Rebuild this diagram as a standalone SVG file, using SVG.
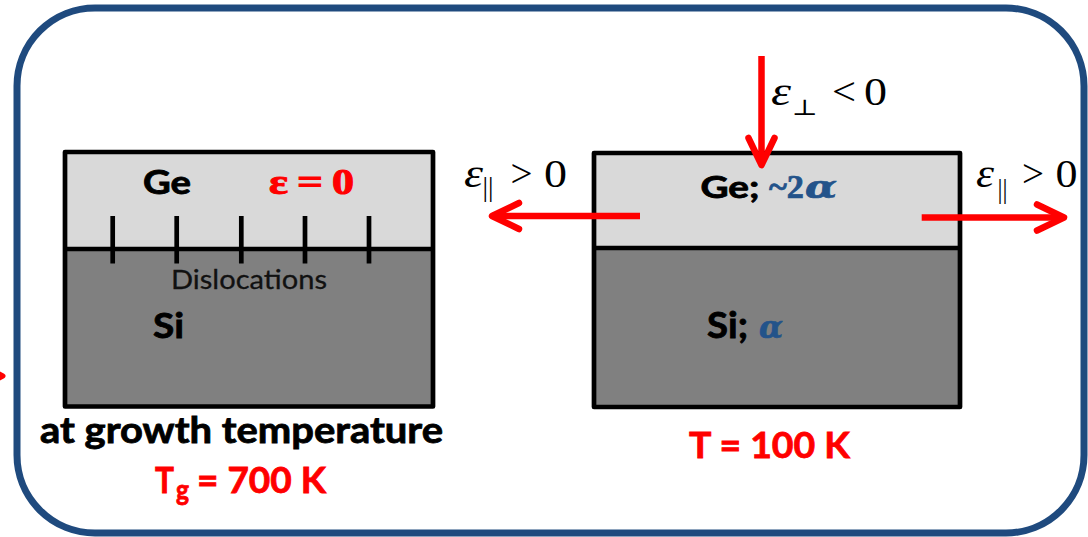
<svg xmlns="http://www.w3.org/2000/svg" width="1088" height="537" viewBox="0 0 1088 537">
<style>
.sans{font-family:Lato,"Liberation Sans",sans-serif;font-weight:bold;fill:#000;stroke:#000;stroke-width:0.8;}
.reg{font-family:Lato,"Liberation Sans",sans-serif;font-weight:normal;fill:#111;stroke:#111;stroke-width:0.3;}
.math{font-family:"Liberation Serif","DejaVu Serif",serif;fill:#000;}
.greek{font-family:"DejaVu Serif","Liberation Serif",serif;font-weight:bold;font-style:italic;}
.red{fill:#FF0000;stroke:#FF0000;}
.blue{fill:#23538A;stroke:#23538A;stroke-width:0.7;}
.top{fill:#D9D9D9;}
.bot{fill:#808080;}
.edge{fill:none;stroke:#000;stroke-width:4.7;stroke-linejoin:round;}
.tick{stroke:#000;stroke-width:4.7;}
.arrow{fill:none;stroke:#FF0000;stroke-width:6.5;}
</style>
<defs>
<marker id="ah" markerUnits="userSpaceOnUse" orient="auto" refX="0" refY="0" markerWidth="40" markerHeight="40" viewBox="-34 -20 40 40" overflow="visible">
<path d="M-27,-13 L0,0 L-27,13" fill="none" stroke="#FF0000" stroke-width="6.5" stroke-linecap="round" stroke-linejoin="round"/>
</marker>
</defs>
<rect width="1088" height="537" fill="#FFFFFF"/>
<g id="frame">
<rect x="17" y="8" width="1067" height="525" rx="78" ry="78" fill="none" stroke="#1F4A7E" stroke-width="7"/>
</g>
<g id="left-sample">
<rect class="top" x="65" y="152" width="368" height="97"/>
<rect class="bot" x="65" y="249" width="368" height="157.5"/>
<rect class="edge" x="65" y="152" width="368" height="254.5"/>
<line class="tick" x1="65" y1="249" x2="433" y2="249"/>
<line class="tick" x1="112.7" y1="216" x2="112.7" y2="263.5"/>
<line class="tick" x1="176.7" y1="216" x2="176.7" y2="263.5"/>
<line class="tick" x1="241.3" y1="216" x2="241.3" y2="263.5"/>
<line class="tick" x1="305" y1="216" x2="305" y2="263.5"/>
<line class="tick" x1="369" y1="216" x2="369" y2="263.5"/>
<text class="sans" x="143" y="194" font-size="31.5" textLength="48" lengthAdjust="spacingAndGlyphs">Ge</text>
<text class="math red" font-weight="bold" x="269" y="194.3" font-size="35" textLength="19" lengthAdjust="spacingAndGlyphs">ε</text>
<text class="math red" font-weight="bold" x="297" y="194.3" font-size="35" textLength="26" lengthAdjust="spacingAndGlyphs">=</text>
<text class="math red" font-weight="bold" x="332" y="194.3" font-size="35" textLength="22" lengthAdjust="spacingAndGlyphs">0</text>
<text class="reg" x="171" y="288.5" font-size="27.5" textLength="156" lengthAdjust="spacingAndGlyphs">Dislocations</text>
<text class="sans" x="153" y="337.5" font-size="35" textLength="31" lengthAdjust="spacingAndGlyphs">Si</text>
<text class="sans" x="40" y="442.7" font-size="36" textLength="403" lengthAdjust="spacingAndGlyphs">at growth temperature</text>
<text class="sans red" x="155" y="492.7" font-size="36" textLength="19" lengthAdjust="spacingAndGlyphs">T</text>
<text class="sans red" x="176" y="500" font-size="28" textLength="13" lengthAdjust="spacingAndGlyphs">g</text>
<text class="sans red" x="197" y="492.7" font-size="36" textLength="129" lengthAdjust="spacingAndGlyphs">= 700 K</text>
</g>
<g id="right-sample">
<rect class="top" x="594" y="153" width="366" height="95"/>
<rect class="bot" x="594" y="248" width="366" height="159"/>
<rect class="edge" x="594" y="153" width="366" height="254"/>
<line class="tick" x1="594" y1="248" x2="960" y2="248"/>
<text class="sans" x="700.5" y="197.7" font-size="30" textLength="59" lengthAdjust="spacingAndGlyphs">Ge;</text>
<text class="math blue" font-weight="bold" x="769" y="198" font-size="34" textLength="35" lengthAdjust="spacingAndGlyphs">~2</text>
<text class="greek blue" x="805" y="198" font-size="32" textLength="32" lengthAdjust="spacingAndGlyphs">α</text>
<text class="sans" x="707" y="338.3" font-size="35.5" textLength="41" lengthAdjust="spacingAndGlyphs">Si;</text>
<text class="greek blue" x="759" y="338.3" font-size="32" textLength="24" lengthAdjust="spacingAndGlyphs">α</text>
<text class="sans red" x="689" y="458.3" font-size="37" textLength="161" lengthAdjust="spacingAndGlyphs">T = 100 K</text>
</g>
<g id="connectors">
<line class="arrow" x1="761.5" y1="56" x2="761.5" y2="165" marker-end="url(#ah)"/>
<line class="arrow" x1="640" y1="216" x2="492" y2="216" marker-end="url(#ah)"/>
<line class="arrow" x1="921.7" y1="217.5" x2="1064" y2="217.5" marker-end="url(#ah)"/>
<polyline points="-20,364 3,376 -20,388" fill="none" stroke="#FF0000" stroke-width="5" stroke-linecap="round" stroke-linejoin="round"/>
</g>
<g id="strain-labels">
<text class="math" font-style="italic" x="771" y="105" font-size="40" textLength="20" lengthAdjust="spacingAndGlyphs">ε</text>
<text class="math" x="792" y="115" font-size="22" textLength="26" lengthAdjust="spacingAndGlyphs">⊥</text>
<text class="math" x="832" y="105" font-size="40" textLength="24" lengthAdjust="spacingAndGlyphs">&lt;</text>
<text class="math" x="864" y="105" font-size="40" textLength="23" lengthAdjust="spacingAndGlyphs">0</text>

<text class="math" font-style="italic" x="464" y="186.5" font-size="40" textLength="19" lengthAdjust="spacingAndGlyphs">ε</text>
<text class="math" x="482.5" y="196" font-size="28" textLength="11" lengthAdjust="spacingAndGlyphs">||</text>
<text class="math" x="510.5" y="186.5" font-size="40" textLength="22" lengthAdjust="spacingAndGlyphs">&gt;</text>
<text class="math" x="544" y="186.5" font-size="40" textLength="23" lengthAdjust="spacingAndGlyphs">0</text>

<text class="math" font-style="italic" x="976" y="186.6" font-size="40" textLength="18" lengthAdjust="spacingAndGlyphs">ε</text>
<text class="math" x="997.5" y="197.5" font-size="28" textLength="10" lengthAdjust="spacingAndGlyphs">||</text>
<text class="math" x="1022" y="186.6" font-size="40" textLength="22" lengthAdjust="spacingAndGlyphs">&gt;</text>
<text class="math" x="1055.5" y="186.6" font-size="40" textLength="22" lengthAdjust="spacingAndGlyphs">0</text>
</g>
</svg>
